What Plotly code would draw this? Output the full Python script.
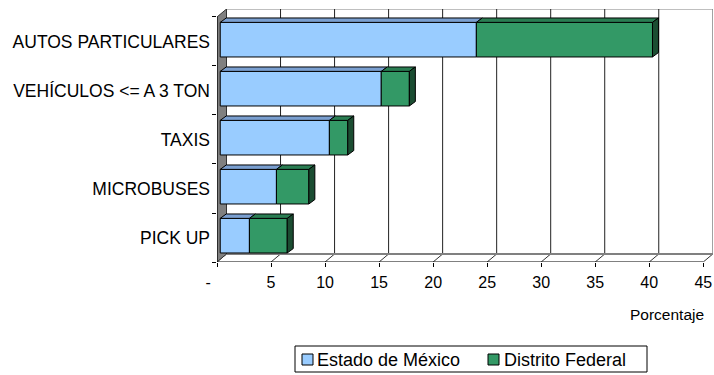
import plotly.graph_objects as go

categories = ["AUTOS PARTICULARES", "VEHÍCULOS <= A 3 TON", "TAXIS", "MICROBUSES", "PICK UP"]
estado_mexico = [23.7, 14.9, 10.1, 5.2, 2.7]
distrito_federal = [16.3, 2.6, 1.7, 3.0, 3.5]
x_ticks = [0, 5, 10, 15, 20, 25, 30, 35, 40, 45]
x_tick_text = ["-\u00a0\u00a0\u00a0\u00a0", "5", "10", "15", "20", "25", "30", "35", "40", "45"]

FONT = "Liberation Sans, Arial, sans-serif"
W, H = 714, 375
ML, MR, MT, MB = 217, 1, 9, 113

# 3d look, in data units
DX, DY = 0.88, 0.163          # depth of the walls
SX, SY = 0.30, 0.037          # front face of bars sits a bit behind the front plane
BW = 0.706                    # bar thickness
BDX, BDY = 0.555, 0.09        # bar depth
XMAX = 45

n = len(categories)
ypos = [n - 1 - i for i in range(n)]


def px(x):
    return (x - ML) / (W - ML - MR)


def py(y):
    return (H - MB - y) / (H - MT - MB)


fig = go.Figure()

# walls and floor
shapes = []
shapes.append(dict(type="rect", x0=DX, x1=XMAX + DX, y0=-0.5 + DY, y1=n - 0.5 + DY,
                   line=dict(color="#808080", width=1), fillcolor="white", layer="below"))
for v in x_ticks[1:-1]:
    shapes.append(dict(type="line", x0=v + DX, x1=v + DX, y0=-0.5 + DY, y1=n - 0.5 + DY,
                       line=dict(color="#222", width=1), layer="below"))
for v in x_ticks:
    shapes.append(dict(type="line", x0=v, x1=v + DX, y0=-0.5, y1=-0.5 + DY,
                       line=dict(color="#333", width=1), layer="below"))
shapes.append(dict(type="line", x0=DX, x1=XMAX + DX, y0=-0.5 + DY, y1=-0.5 + DY,
                   line=dict(color="#808080", width=2), layer="below"))
# left wall
shapes.append(dict(type="path",
                   path=f"M0,-0.5 L0,{n - 0.5} L{DX},{n - 0.5 + DY} L{DX},{-0.5 + DY} Z",
                   fillcolor="#808080", line=dict(color="#333", width=1), layer="below"))
shapes.append(dict(type="line", x0=0, x1=XMAX, y0=-0.5, y1=-0.5,
                   line=dict(color="black", width=1), layer="below"))
shapes.append(dict(type="line", x0=0, x1=0, y0=-0.5, y1=n - 0.5,
                   line=dict(color="black", width=1), layer="below"))

series = [
    ("Estado de México", estado_mexico, "#99CCFF", "#7A9FD0"),
    ("Distrito Federal", distrito_federal, "#339966", "#2A7D52"),
]
SIDE = "#1B4D32"

base = [SX] * n
faces = []
for name, vals, front, top in series:
    yc = [y + SY for y in ypos]
    fig.add_trace(go.Bar(
        name=name, x=vals, y=yc, base=list(base), orientation="h", width=BW,
        marker=dict(color=front, line=dict(color="black", width=1)),
        hovertemplate="%{x}<extra>" + name + "</extra>",
    ))
    tx, ty = [], []
    for b, v, y in zip(base, vals, yc):
        x0, x1 = b, b + v
        yt = y + BW / 2
        tx += [x0, x1, x1 + BDX, x0 + BDX, x0, None]
        ty += [yt, yt, yt + BDY, yt + BDY, yt, None]
    faces.append((tx, ty, top))
    base = [b + v for b, v in zip(base, vals)]

# right side of each stacked bar
sx_, sy_ = [], []
for x1, y in zip(base, ypos):
    yc = y + SY
    yt, yb = yc + BW / 2, yc - BW / 2
    sx_ += [x1, x1 + BDX, x1 + BDX, x1, x1, None]
    sy_ += [yb, yb + BDY, yt + BDY, yt, yb, None]
faces.append((sx_, sy_, SIDE))

for fx, fy, col in faces:
    fig.add_trace(go.Scatter(x=fx, y=fy, mode="lines", fill="toself", fillcolor=col,
                             line=dict(color="black", width=1), showlegend=False,
                             hoverinfo="skip"))

# legend box, drawn by hand to get the tight Excel look
shapes.append(dict(type="rect", xref="paper", yref="paper", x0=px(295), x1=px(647),
                   y0=py(372), y1=py(346), line=dict(color="black", width=1),
                   fillcolor="white"))
annotations = []
for (name, _, front, _), sx0, tx0 in zip(series, [302, 488], [315, 502]):
    shapes.append(dict(type="rect", xref="paper", yref="paper", x0=px(sx0), x1=px(sx0 + 11),
                       y0=py(365), y1=py(354), line=dict(color="black", width=1),
                       fillcolor=front))
    annotations.append(dict(text=name, xref="paper", yref="paper", x=px(tx0), y=py(359.5),
                            xanchor="left", yanchor="middle", showarrow=False,
                            font=dict(size=18)))
annotations.append(dict(text="Porcentaje", xref="paper", yref="paper", x=px(706), y=py(314),
                        xanchor="right", yanchor="middle", showarrow=False,
                        font=dict(size=15.5)))

fig.update_layout(
    width=W, height=H,
    margin=dict(l=ML, r=MR, t=MT, b=MB),
    paper_bgcolor="white", plot_bgcolor="white",
    font=dict(family=FONT, size=16, color="black"),
    barmode="overlay",
    shapes=shapes,
    annotations=annotations,
    showlegend=False,
    xaxis=dict(range=[0, XMAX + 0.9], tickvals=x_ticks, ticktext=x_tick_text,
               ticks="outside", ticklen=4, tickcolor="black", showgrid=False,
               tickfont=dict(size=16), ticklabelstandoff=2,
               zeroline=False, showline=False, fixedrange=True, automargin=False),
    yaxis=dict(range=[-0.5, n - 0.5 + DY], tickvals=ypos, ticktext=categories,
               ticks="", showgrid=False, zeroline=False, showline=False,
               tickfont=dict(size=17.5), ticklabelstandoff=6,
               minor=dict(tickvals=[y - 0.5 for y in range(n + 1)], ticks="outside",
                          ticklen=4, tickcolor="black", showgrid=False),
               fixedrange=True, automargin=False),
)

fig.write_html("out.html", config={"displayModeBar": False},
               post_script="document.body.style.margin='0px';")
